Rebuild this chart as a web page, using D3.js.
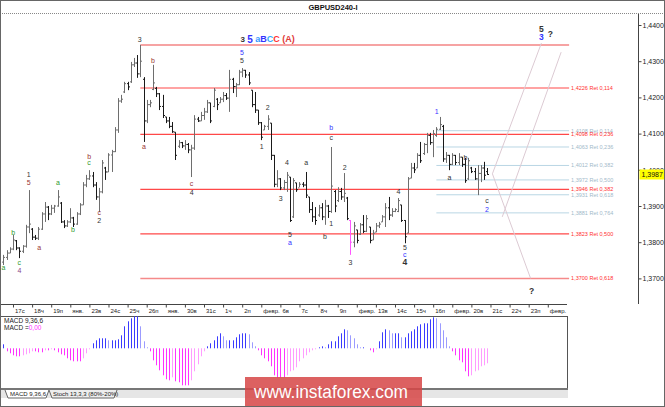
<!DOCTYPE html>
<html>
<head>
<meta charset="utf-8">
<script src="https://cdnjs.cloudflare.com/ajax/libs/d3/7.8.5/d3.min.js"></script>
<style>
  body { margin: 0; background: #fff; }
  svg { display: block; }
  text { font-family: "Liberation Sans", Arial, sans-serif; }
</style>
</head>
<body>
<div id="chart"></div>
<script>
// GBPUSD H4 bars: [open, high, low, close]
const bars = [
  [1.3745,1.3765,1.3737,1.3758],[1.3758,1.3778,1.3751,1.3770],[1.3770,1.3786,1.3770,1.3781],[1.3781,1.3820,1.3778,1.3806],
  [1.3804,1.3806,1.3778,1.3784],[1.3784,1.3786,1.3756,1.3775],[1.3775,1.3792,1.3770,1.3789],[1.3789,1.3848,1.3785,1.3842],
  [1.3842,1.3944,1.3825,1.3850],[1.3836,1.3839,1.3806,1.3814],[1.3814,1.3820,1.3806,1.3811],[1.3811,1.3842,1.3806,1.3836],
  [1.3836,1.3883,1.3834,1.3878],[1.3878,1.3911,1.3856,1.3897],[1.3897,1.3900,1.3861,1.3878],[1.3878,1.3903,1.3875,1.3894],
  [1.3894,1.3903,1.3881,1.3900],[1.3900,1.3944,1.3898,1.3925],[1.3908,1.3911,1.3853,1.3856],[1.3856,1.3861,1.3839,1.3845],
  [1.3845,1.3861,1.3842,1.3856],[1.3856,1.3894,1.3853,1.3867],[1.3867,1.3870,1.3842,1.3850],[1.3850,1.3883,1.3848,1.3878],
  [1.3878,1.3908,1.3875,1.3903],[1.3903,1.3966,1.3903,1.3958],[1.3958,1.3986,1.3952,1.3975],[1.3975,1.3999,1.3972,1.3983],
  [1.3983,1.3994,1.3952,1.3958],[1.3958,1.3966,1.3917,1.3925],[1.3925,1.3950,1.3883,1.3939],[1.3939,1.4027,1.3935,1.4019],
  [1.4005,1.4008,1.3972,1.3994],[1.3994,1.4046,1.3994,1.4041],[1.4041,1.4055,1.3994,1.4050],[1.4050,1.4118,1.4049,1.4110],
  [1.4110,1.4198,1.4102,1.4190],[1.4190,1.4207,1.4185,1.4195],[1.4215,1.4243,1.4212,1.4238],[1.4238,1.4243,1.4220,1.4229],
  [1.4243,1.4298,1.4240,1.4290],[1.4290,1.4309,1.4284,1.4295],[1.4295,1.4317,1.4254,1.4265],[1.4265,1.4345,1.4256,1.4300],
  [1.4250,1.4256,1.4077,1.4135],[1.4135,1.4193,1.4129,1.4180],[1.4180,1.4193,1.4173,1.4185],[1.4222,1.4290,1.4220,1.4240],
  [1.4225,1.4229,1.4201,1.4210],[1.4210,1.4212,1.4165,1.4175],[1.4175,1.4207,1.4143,1.4150],[1.4146,1.4146,1.4129,1.4135],
  [1.4135,1.4146,1.4115,1.4120],[1.4120,1.4132,1.4102,1.4105],[1.4104,1.4104,1.4027,1.4040],[1.4065,1.4082,1.4060,1.4075],
  [1.4075,1.4077,1.4060,1.4066],[1.4066,1.4082,1.4055,1.4070],[1.4070,1.4074,1.4046,1.4055],[1.4055,1.4069,1.3980,1.4060],
  [1.4060,1.4151,1.4055,1.4140],[1.4140,1.4146,1.4132,1.4135],[1.4135,1.4160,1.4135,1.4150],[1.4150,1.4171,1.4138,1.4160],
  [1.4160,1.4193,1.4157,1.4185],[1.4185,1.4185,1.4129,1.4135],[1.4175,1.4226,1.4173,1.4220],[1.4195,1.4198,1.4165,1.4180],
  [1.4185,1.4201,1.4185,1.4195],[1.4195,1.4215,1.4187,1.4205],[1.4205,1.4212,1.4193,1.4198],[1.4198,1.4276,1.4160,1.4250],
  [1.4250,1.4254,1.4212,1.4230],[1.4230,1.4240,1.4201,1.4235],[1.4235,1.4276,1.4234,1.4270],[1.4270,1.4281,1.4256,1.4275],
  [1.4275,1.4276,1.4254,1.4262],[1.4262,1.4270,1.4234,1.4240],[1.4220,1.4220,1.4173,1.4180],[1.4180,1.4215,1.4157,1.4165],
  [1.4165,1.4165,1.4124,1.4130],[1.4130,1.4132,1.4082,1.4090],[1.4110,1.4124,1.4110,1.4120],[1.4120,1.4151,1.4110,1.4140],
  [1.4129,1.4129,1.4027,1.4040],[1.4040,1.4041,1.3952,1.3960],[1.3960,1.3999,1.3952,1.3975],[1.3975,1.3977,1.3944,1.3950],
  [1.3950,1.3972,1.3944,1.3965],[1.3965,1.3994,1.3939,1.3985],[1.3980,1.3980,1.3856,1.3860],[1.3870,1.3977,1.3867,1.3970],
  [1.3964,1.3964,1.3939,1.3945],[1.3950,1.3966,1.3952,1.3960],[1.3960,1.3966,1.3952,1.3958],[1.3958,1.3994,1.3922,1.3930],
  [1.3925,1.3925,1.3881,1.3890],[1.3890,1.3911,1.3856,1.3870],[1.3870,1.3897,1.3848,1.3860],[1.3875,1.3903,1.3870,1.3895],
  [1.3895,1.3908,1.3861,1.3870],[1.3870,1.3917,1.3848,1.3900],[1.3900,1.3903,1.3867,1.3885],[1.3885,1.4063,1.3881,1.3955],
  [1.3940,1.3944,1.3883,1.3900],[1.3915,1.3952,1.3911,1.3940],[1.3940,1.3950,1.3917,1.3925],[1.3925,1.3991,1.3911,1.3935],
  [1.3922,1.3925,1.3861,1.3865],[1.3860,1.3861,1.3765,1.3800],[1.3800,1.3856,1.3786,1.3845],[1.3834,1.3834,1.3797,1.3805],
  [1.3822,1.3853,1.3820,1.3848],[1.3848,1.3875,1.3825,1.3830],[1.3830,1.3875,1.3828,1.3865],[1.3842,1.3842,1.3797,1.3805],
  [1.3806,1.3834,1.3806,1.3825],[1.3828,1.3853,1.3828,1.3845],[1.3845,1.3856,1.3839,1.3850],[1.3856,1.3875,1.3856,1.3870],
  [1.3870,1.3908,1.3842,1.3895],[1.3895,1.3925,1.3861,1.3875],[1.3875,1.3894,1.3870,1.3885],[1.3885,1.3894,1.3883,1.3890],
  [1.3885,1.3922,1.3883,1.3915],[1.3903,1.3903,1.3856,1.3860],[1.3860,1.3861,1.3797,1.3815],[1.3825,1.3980,1.3825,1.3975],
  [1.3977,1.4019,1.3977,1.4005],[1.4005,1.4019,1.3991,1.4000],[1.4005,1.4046,1.4005,1.4040],[1.4040,1.4077,1.4019,1.4025],
  [1.4045,1.4074,1.4041,1.4070],[1.4070,1.4102,1.4046,1.4095],[1.4095,1.4102,1.4069,1.4075],[1.4075,1.4110,1.4035,1.4100],
  [1.4095,1.4118,1.4091,1.4112],[1.4112,1.4146,1.4110,1.4125],[1.4120,1.4124,1.4022,1.4030],[1.4030,1.4049,1.4019,1.4040],
  [1.4040,1.4041,1.3999,1.4015],[1.4015,1.4046,1.4013,1.4040],[1.4040,1.4041,1.4013,1.4020],[1.4020,1.4046,1.4013,1.4035],
  [1.4035,1.4035,1.4008,1.4015],[1.4015,1.4033,1.3964,1.3970],[1.3975,1.4033,1.3972,1.4025],[1.4005,1.4008,1.3991,1.3995],
  [1.3995,1.4005,1.3972,1.3975],[1.3975,1.4013,1.3930,1.3990],[1.3990,1.4013,1.3966,1.4005],[1.4005,1.4022,1.3972,1.3985],
  [1.3995,1.4005,1.3986,1.3987]
];
const markedBars = [109]; // bar shown in magenta

// MACD 9,36,6 histogram (x 0.0001)
const macd = [
  4,-3,-5,-7,-8,-8,-7,-6,-5,-3,
  -3,-4,-4,-2,-2,-1,-2,-4,-6,-7,
  -10,-12,-13,-13,-13,-10,-5,-1,5,8,
  10,10,10,8,8,8,9,13,22,27,
  30,32,32,22,7,1,-3,-12,-17,-22,
  -27,-31,-32,-29,-33,-34,-37,-37,-37,-32,
  -23,-16,-8,-3,2,5,8,12,15,12,
  8,8,8,11,14,15,15,14,6,2,
  -2,-7,-10,-13,-18,-27,-29,-29,-29,-27,
  -23,-22,-19,-13,-10,-7,-4,-2,-1,1,
  2,1,4,7,7,12,15,19,18,13,
  10,4,1,1,0,-2,-4,-1,7,16,
  19,18,15,15,15,11,11,15,17,19,
  22,24,25,25,29,31,30,25,18,11,
  2,-3,-7,-12,-14,-23,-28,-27,-23,-22,
  -18,-17,-15
];

const dayLabels = ["17с","18ч","19п","янв.","23в","24с","25ч","26п","янв.","30в","31с","1ч","2п","февр.",
  "6в","7с","8ч","9п","февр.","13в","14с","15ч","16п","февр.","20в","21с","22ч","23п","февр."];
const barsPerDay = 6;
const firstDayBar = 3;

const priceTicks = [1.37, 1.38, 1.39, 1.40, 1.41, 1.42, 1.43, 1.44];
const lastPrice = 1.3987;

// Fibonacci retracement sets
const redTop = 1.4345;
const redLevels = [1.4226, 1.4098, 1.3946, 1.3823, 1.3700];
const redRatios = [0.114, 0.236, 0.382, 0.500, 0.618];
const blueLevels = [1.4108, 1.4063, 1.4012, 1.3972, 1.3931, 1.3881];
const blueRatios = [0.114, 0.236, 0.382, 0.500, 0.618, 0.764];
const redStart = 43, blueStart = 136, fibEnd = 177.7;

// projection lines [bar, price] -> [bar, price]
const projLines = [
  [[169.0, 1.4350], [153.6, 1.3989]],
  [[175.2, 1.4325], [156.7, 1.3870]],
  [[153.6, 1.3989], [165.6, 1.3700]]
];

// wave marks: bar, price, text, colour key, weight key
const waveLabels = [
  [0, 1.3731, "a", "green"], [3.1, 1.3828, "b", "green"], [5, 1.3745, "c", "green"], [5, 1.3723, "4", "purple"],
  [7.9, 1.3986, "1", "dark"], [7.9, 1.3964, "5", "brown"], [11.2, 1.3784, "a", "brown"], [17.1, 1.3964, "a", "green"],
  [21.8, 1.3834, "b", "green"], [26.9, 1.4038, "b", "brown"], [26.9, 1.4019, "c", "green"], [30.1, 1.3881, "c", "brown"],
  [30.1, 1.3861, "2", "dark"], [42.8, 1.4359, "3", "dark"], [47.0, 1.4301, "b", "brown"], [44.1, 1.4063, "a", "brown"],
  [59.1, 1.3961, "c", "brown"], [59.1, 1.3936, "4", "dark"], [74.9, 1.4325, "5", "blue"], [74.9, 1.4301, "5", "dark"],
  [83.0, 1.4171, "2", "dark"], [81.1, 1.4063, "1", "dark"], [87.1, 1.3922, "3", "dark"], [89.1, 1.4019, "4", "dark"],
  [90.0, 1.3820, "5", "dark"], [90.0, 1.3798, "a", "blue"], [95.1, 1.4019, "a", "dark"], [101.0, 1.3817, "b", "dark"],
  [103.0, 1.4118, "b", "blue"], [103.0, 1.4088, "c", "dark"], [103.0, 1.3853, "1", "dark"], [107.2, 1.4005, "2", "dark"],
  [109.0, 1.3745, "3", "dark"], [124.1, 1.3939, "4", "dark"], [126.1, 1.3784, "5", "dark"], [126.1, 1.3765, "c", "blue"],
  [126.1, 1.3744, "4", "dark", "bold"], [136.1, 1.4162, "1", "blue"], [140.1, 1.3980, "a", "dark"], [145.1, 1.4035, "b", "dark"],
  [151.9, 1.3914, "c", "dark"], [151.9, 1.3889, "2", "blue"], [169.0, 1.4389, "5", "dark", "bold"],
  [169.0, 1.4367, "3", "blue", "bold"], [171.8, 1.4376, "?", "dark", "bold"], [165.9, 1.3665, "?", "dark", "bold"]
];
const headerBar = 74.5, headerPrice = 1.4361;

const palette = { dark: "#333", brown: "#993333", green: "#2e9a2e", blue: "#3333ff", purple: "#884488" };

const width = 665, height = 407;
const svg = d3.select('#chart').append('svg')
  .attr('width', width).attr('height', height);

svg.append('rect').attr('width', width).attr('height', height).attr('fill', '#fff');

const x = d3.scaleLinear().domain([0, 152]).range([3.45, 487.3]);
const y = d3.scaleLinear().domain([1.37, 1.44]).range([278.4, 25]);
const comma = s => s.replace('.', ',');
const fmtPrice = d => comma(d3.format('.4f')(d));
const fmtRatio = d => comma(d3.format('.3f')(d));

// title
svg.append('text').attr('x', 333).attr('y', 9.5).attr('text-anchor', 'middle')
  .attr('font-size', 7.5).attr('font-weight', 'bold').attr('fill', '#111').text('GBPUSD240-I');
svg.append('line').attr('x1', 0).attr('x2', width).attr('y1', 13.5).attr('y2', 13.5)
  .attr('stroke', '#888').attr('stroke-dasharray', '1,1');

// fibonacci lines
svg.append('line').attr('x1', x(redStart)).attr('x2', x(fibEnd))
  .attr('y1', y(redTop)).attr('y2', y(redTop))
  .attr('stroke', '#f6a3a3').attr('stroke-width', 2);

svg.selectAll('.fib-blue').data(blueLevels).enter().append('line')
  .attr('class', 'fib-blue')
  .attr('x1', x(blueStart)).attr('x2', x(fibEnd))
  .attr('y1', d => y(d)).attr('y2', d => y(d))
  .attr('stroke', '#b9d6e4').attr('stroke-width', 1);

svg.selectAll('.fib-red').data(redLevels).enter().append('line')
  .attr('class', 'fib-red')
  .attr('x1', x(redStart)).attr('x2', x(fibEnd))
  .attr('y1', d => y(d)).attr('y2', d => y(d))
  .attr('stroke', (d, i) => i === redLevels.length - 1 ? '#f58a8a' : '#ff4848')
  .attr('stroke-width', (d, i) => i === redLevels.length - 1 ? 1.5 : 1.2);

svg.selectAll('.fib-blue-lbl').data(blueLevels).enter().append('text')
  .attr('x', x(fibEnd) + 2).attr('y', d => y(d) + 2)
  .attr('font-size', 5.5).attr('fill', '#9fb9c9')
  .text((d, i) => `${fmtPrice(d)} Ret ${fmtRatio(blueRatios[i])}`);

svg.selectAll('.fib-red-lbl').data(redLevels).enter().append('text')
  .attr('x', x(fibEnd) + 2).attr('y', d => y(d) + 2)
  .attr('font-size', 5.5).attr('fill', '#ff3030')
  .text((d, i) => `${fmtPrice(d)} Ret ${fmtRatio(redRatios[i])}`);

// projection lines
svg.selectAll('.proj').data(projLines).enter().append('line')
  .attr('x1', d => x(d[0][0])).attr('y1', d => y(d[0][1]))
  .attr('x2', d => x(d[1][0])).attr('y2', d => y(d[1][1]))
  .attr('stroke', '#dccad3').attr('stroke-width', 1);

// OHLC bars
const barColor = (d, i) => markedBars.includes(i) ? '#ff55ff' : (d[3] >= d[0] ? '#6e6e6e' : '#1a1a1a');
const gBars = svg.append('g').attr('stroke-width', 1);
bars.forEach((d, i) => {
  const cx = Math.round(x(i)) + 0.5;
  const c = barColor(d, i);
  gBars.append('line').attr('x1', cx).attr('x2', cx).attr('y1', y(d[1])).attr('y2', y(d[2])).attr('stroke', c);
  gBars.append('line').attr('x1', cx - 1.5).attr('x2', cx).attr('y1', y(d[0])).attr('y2', y(d[0])).attr('stroke', c);
  gBars.append('line').attr('x1', cx).attr('x2', cx + 1.5).attr('y1', y(d[3])).attr('y2', y(d[3])).attr('stroke', c);
});

// wave labels
svg.selectAll('.wave').data(waveLabels).enter().append('text')
  .attr('x', d => x(d[0])).attr('y', d => y(d[1]))
  .attr('text-anchor', 'middle').attr('dominant-baseline', 'central')
  .attr('font-size', d => d[4] ? 8.5 : 7)
  .attr('font-weight', d => d[4] ? 'bold' : 'normal')
  .attr('fill', d => palette[d[3]])
  .text(d => d[2]);

// header wave text
const header = svg.append('text').attr('x', x(headerBar)).attr('y', y(headerPrice))
  .attr('dominant-baseline', 'central').attr('font-weight', 'bold').attr('font-size', 9);
[["3 ", "#333", 8], ["5", "#3333ff", 10], [" a", "#3399ff", 9], ["B", "#3333ff", 9],
 ["C", "#33aaff", 9], ["C", "#ff3333", 9], [" (A)", "#e03a3a", 9]].forEach(t => {
  header.append('tspan').attr('fill', t[1]).attr('font-size', t[2]).text(t[0]);
});

// price axis
const axisX = 638.5;
svg.append('line').attr('x1', axisX).attr('x2', axisX).attr('y1', 14).attr('y2', 304)
  .attr('stroke', '#444');
const yAxis = svg.append('g').attr('transform', `translate(${axisX},0)`)
  .call(d3.axisRight(y).tickValues(priceTicks).tickFormat(fmtPrice).tickSize(3).tickPadding(1));
yAxis.select('.domain').remove();
yAxis.selectAll('line').attr('stroke', '#444');
yAxis.selectAll('text').attr('font-size', 7).attr('fill', '#222')
  .attr('font-family', '"Liberation Sans", Arial, sans-serif');

// current price tag
svg.append('rect').attr('x', axisX + 1).attr('y', y(lastPrice) - 5).attr('width', 25).attr('height', 10)
  .attr('fill', '#ffff00');
svg.append('text').attr('x', axisX + 3).attr('y', y(lastPrice) + 2.5)
  .attr('font-size', 7).attr('fill', '#111').text(fmtPrice(lastPrice));

// time axis
const dayIdx = dayLabels.map((d, k) => firstDayBar + k * barsPerDay);
const timeAxisY = 304.5;
svg.append('line').attr('x1', 0).attr('x2', 567).attr('y1', timeAxisY).attr('y2', timeAxisY).attr('stroke', '#444');
const xAxis = svg.append('g').attr('transform', `translate(0,${timeAxisY})`)
  .call(d3.axisBottom(x).tickValues(dayIdx).tickFormat((d, i) => dayLabels[i]).tickSize(3).tickPadding(1));
xAxis.select('.domain').remove();
xAxis.selectAll('line').attr('stroke', '#444');
xAxis.selectAll('text').attr('font-size', 6).attr('fill', '#222').attr('text-anchor', 'start')
  .attr('dx', 1.5).attr('font-family', '"Liberation Sans", Arial, sans-serif');

// MACD panel
const mTop = 316, mBottom = 388, mRight = 567;
svg.append('rect').attr('x', 0.5).attr('y', mTop + 0.5).attr('width', mRight).attr('height', mBottom - mTop)
  .attr('fill', '#fff').attr('stroke', '#555');
const my = d3.scaleLinear().domain([-40, 34]).range([388.3, 314.3]);
const histColor = (v, i) => {
  const prev = i > 0 ? macd[i - 1] : v;
  if (v >= 0) return v >= prev ? '#3b3bff' : '#9b9bff';
  return v <= prev ? '#ff33ff' : '#ff9cff';
};
svg.selectAll('.hist').data(macd).enter().append('line')
  .attr('x1', (d, i) => Math.round(x(i)) + 0.5).attr('x2', (d, i) => Math.round(x(i)) + 0.5)
  .attr('y1', my(0)).attr('y2', d => my(d))
  .attr('stroke', (d, i) => histColor(d, i)).attr('stroke-width', 1);

svg.append('text').attr('x', 4).attr('y', 322.5).attr('font-size', 6.5).attr('fill', '#222').text('MACD 9,36,6');
const mv = svg.append('text').attr('x', 4).attr('y', 330).attr('font-size', 6.5).attr('fill', '#222');
mv.append('tspan').text('MACD =');
mv.append('tspan').attr('fill', '#ff33ff').text('0,00');

// tab strip
svg.append('rect').attr('x', 1).attr('y', 388).attr('width', mRight).attr('height', 2).attr('fill', '#777');
svg.append('rect').attr('x', 1).attr('y', 390).attr('width', mRight).attr('height', 8).attr('fill', '#e6e6e6');
svg.append('path').attr('d', 'M5,390 L8,398 L46,398 L49,390').attr('fill', '#fff').attr('stroke', '#666');
svg.append('path').attr('d', 'M49,390 L52,398 L114,398 L117,390').attr('fill', '#ededed').attr('stroke', '#666');
svg.append('text').attr('x', 10).attr('y', 396).attr('font-size', 6).attr('fill', '#222').text('MACD 9,36,6');
svg.append('text').attr('x', 53).attr('y', 396).attr('font-size', 6).attr('fill', '#222').text('Stoch 13,3,3 (80%-20%)');

// watermark
svg.append('rect').attr('x', 245).attr('y', 377).attr('width', 177).attr('height', 30)
  .attr('fill', '#d64545').attr('opacity', 0.85);
svg.append('text').attr('x', 254).attr('y', 397.5).attr('font-size', 18).attr('fill', '#fff')
  .attr('textLength', 154).attr('lengthAdjust', 'spacingAndGlyphs').text('www.instaforex.com');

// outer frame
svg.append('rect').attr('x', 0.5).attr('y', 0.5).attr('width', width - 1).attr('height', height - 1)
  .attr('fill', 'none').attr('stroke', '#666');
</script>
</body>
</html>
